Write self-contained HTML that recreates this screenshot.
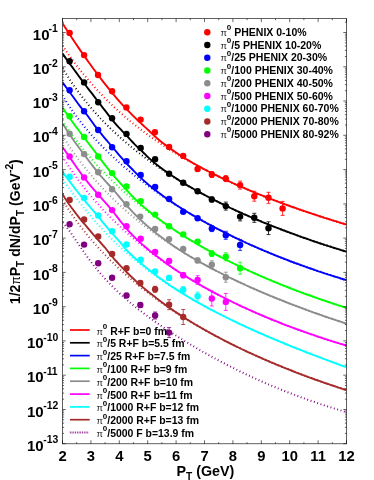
<!DOCTYPE html>
<html><head><meta charset="utf-8"><title>chart</title>
<style>html,body{margin:0;padding:0;background:#fff}body{width:374px;height:480px;overflow:hidden;font-family:"Liberation Sans",sans-serif}</style>
</head><body>
<svg width="374" height="480" viewBox="0 0 374 480" style="display:block">
<rect width="374" height="480" fill="#fff"/>
<defs><filter id="gs" x="0" y="0" width="100%" height="100%" filterUnits="userSpaceOnUse" color-interpolation-filters="sRGB"><feColorMatrix type="saturate" values="1"/></filter><clipPath id="cp"><rect x="62.5" y="18.6" width="284.0" height="425.2"/></clipPath></defs>
<g clip-path="url(#cp)" fill="none" stroke-linejoin="round">
<path d="M62.5,45.6 L64.5,48.6 L66.5,51.5 L68.5,54.4 L70.5,57.2 L72.5,59.9 L74.5,62.6 L76.5,65.3 L78.5,67.9 L80.5,70.5 L82.5,73.0 L84.5,75.4 L86.5,77.8 L88.5,80.2 L90.5,82.5 L92.5,84.8 L94.5,87.1 L96.5,89.3 L98.5,91.4 L100.5,93.5 L102.5,95.6 L104.5,97.7 L106.5,99.7 L108.5,101.7 L110.5,103.6 L112.5,105.5 L114.5,107.4 L116.5,109.3 L118.5,111.1 L120.5,112.9 L122.5,114.6 L124.5,116.4 L126.5,118.1 L128.5,119.8 L130.5,121.4 L132.5,123.1 L134.5,124.7 L136.5,126.2 L138.5,127.8 L140.5,129.3 L142.5,130.9 L144.5,132.4 L146.5,133.8 L148.5,135.3 L150.5,136.7 L152.5,138.1 L154.5,139.5 L156.5,140.9 L158.5,142.3 L160.5,143.6 L162.5,144.9 L164.5,146.2 L166.5,147.5 L168.5,148.8 L170.5,150.1 L172.5,151.3 L174.5,152.5 L176.5,153.8 L178.5,155.0 L180.5,156.2 L182.5,157.3 L184.5,158.5 L186.5,159.6 L188.5,160.8 L190.5,161.9 L192.5,163.0 L194.5,164.1 L196.5,165.2 L198.5,166.3 L200.5,167.3 L202.5,168.4 L204.5,169.4 L206.5,170.4 L208.5,171.5 L210.5,172.5 L212.5,173.5 L214.5,174.5 L216.5,175.4 L218.5,176.4 L220.5,177.4 L222.5,178.3 L224.5,179.3 L226.5,180.2 L228.5,181.1 L230.5,182.0 L232.5,183.0 L234.5,183.9 L236.5,184.8 L238.5,185.6 L240.5,186.5 L242.5,187.4 L244.5,188.2 L246.5,189.1 L248.5,189.9 L250.5,190.8 L252.5,191.6 L254.5,192.4 L256.5,193.3 L258.5,194.1 L260.5,194.9 L262.5,195.7 L264.5,196.5 L266.5,197.3 L268.5,198.0 L270.5,198.8 L272.5,199.6 L274.5,200.4 L276.5,201.1 L278.5,201.9 L280.5,202.6 L282.5,203.4 L284.5,204.1 L286.5,204.8 L288.5,205.5 L290.5,206.3 L292.5,207.0 L294.5,207.7 L296.5,208.4 L298.5,209.1 L300.5,209.8 L302.5,210.5 L304.5,211.2 L306.5,211.8 L308.5,212.5 L310.5,213.2 L312.5,213.9 L314.5,214.5 L316.5,215.2 L318.5,215.8 L320.5,216.5 L322.5,217.1 L324.5,217.8 L326.5,218.4 L328.5,219.0 L330.5,219.7 L332.5,220.3 L334.5,220.9 L336.5,221.5 L338.5,222.2 L340.5,222.8 L342.5,223.4 L344.5,224.0 L346.5,224.6" stroke="#ff0000" stroke-width="2" stroke-dasharray="0.9 2.6"/>
<path d="M62.5,67.8 L64.5,71.2 L66.5,74.4 L68.5,77.6 L70.5,80.7 L72.5,83.7 L74.5,86.6 L76.5,89.4 L78.5,92.1 L80.5,94.8 L82.5,97.4 L84.5,100.0 L86.5,102.4 L88.5,104.9 L90.5,107.2 L92.5,109.6 L94.5,111.8 L96.5,114.1 L98.5,116.2 L100.5,118.4 L102.5,120.5 L104.5,122.5 L106.5,124.5 L108.5,126.5 L110.5,128.5 L112.5,130.4 L114.5,132.3 L116.5,134.1 L118.5,135.9 L120.5,137.7 L122.5,139.5 L124.5,141.2 L126.5,142.9 L128.5,144.6 L130.5,146.3 L132.5,147.9 L134.5,149.5 L136.5,151.1 L138.5,152.7 L140.5,154.2 L142.5,155.7 L144.5,157.2 L146.5,158.7 L148.5,160.2 L150.5,161.6 L152.5,163.1 L154.5,164.5 L156.5,165.9 L158.5,167.2 L160.5,168.6 L162.5,169.9 L164.5,171.3 L166.5,172.6 L168.5,173.9 L170.5,175.1 L172.5,176.4 L174.5,177.7 L176.5,178.9 L178.5,180.1 L180.5,181.3 L182.5,182.5 L184.5,183.7 L186.5,184.9 L188.5,186.1 L190.5,187.2 L192.5,188.3 L194.5,189.5 L196.5,190.6 L198.5,191.7 L200.5,192.8 L202.5,193.9 L204.5,194.9 L206.5,196.0 L208.5,197.0 L210.5,198.1 L212.5,199.1 L214.5,200.1 L216.5,201.1 L218.5,202.1 L220.5,203.1 L222.5,204.1 L224.5,205.1 L226.5,206.1 L228.5,207.0 L230.5,208.0 L232.5,208.9 L234.5,209.8 L236.5,210.8 L238.5,211.7 L240.5,212.6 L242.5,213.5 L244.5,214.4 L246.5,215.2 L248.5,216.1 L250.5,217.0 L252.5,217.9 L254.5,218.7 L256.5,219.6 L258.5,220.4 L260.5,221.2 L262.5,222.1 L264.5,222.9 L266.5,223.7 L268.5,224.5 L270.5,225.3 L272.5,226.1 L274.5,226.9 L276.5,227.7 L278.5,228.4 L280.5,229.2 L282.5,230.0 L284.5,230.7 L286.5,231.5 L288.5,232.2 L290.5,233.0 L292.5,233.7 L294.5,234.4 L296.5,235.2 L298.5,235.9 L300.5,236.6 L302.5,237.3 L304.5,238.0 L306.5,238.7 L308.5,239.4 L310.5,240.1 L312.5,240.8 L314.5,241.5 L316.5,242.1 L318.5,242.8 L320.5,243.5 L322.5,244.1 L324.5,244.8 L326.5,245.4 L328.5,246.1 L330.5,246.7 L332.5,247.4 L334.5,248.0 L336.5,248.6 L338.5,249.2 L340.5,249.9 L342.5,250.5 L344.5,251.1 L346.5,251.7" stroke="#000000" stroke-width="2" stroke-dasharray="0.9 2.6"/>
<path d="M62.5,95.3 L64.5,98.7 L66.5,101.9 L68.5,105.0 L70.5,108.1 L72.5,111.0 L74.5,113.8 L76.5,116.5 L78.5,119.2 L80.5,121.8 L82.5,124.3 L84.5,126.8 L86.5,129.2 L88.5,131.5 L90.5,133.8 L92.5,136.1 L94.5,138.3 L96.5,140.5 L98.5,142.6 L100.5,144.7 L102.5,146.7 L104.5,148.7 L106.5,150.7 L108.5,152.6 L110.5,154.6 L112.5,156.4 L114.5,158.3 L116.5,160.1 L118.5,161.9 L120.5,163.7 L122.5,165.4 L124.5,167.2 L126.5,168.9 L128.5,170.5 L130.5,172.2 L132.5,173.8 L134.5,175.5 L136.5,177.0 L138.5,178.6 L140.5,180.2 L142.5,181.7 L144.5,183.2 L146.5,184.7 L148.5,186.2 L150.5,187.7 L152.5,189.1 L154.5,190.6 L156.5,192.0 L158.5,193.4 L160.5,194.8 L162.5,196.1 L164.5,197.5 L166.5,198.8 L168.5,200.2 L170.5,201.5 L172.5,202.8 L174.5,204.1 L176.5,205.3 L178.5,206.6 L180.5,207.8 L182.5,209.1 L184.5,210.3 L186.5,211.5 L188.5,212.7 L190.5,213.9 L192.5,215.1 L194.5,216.2 L196.5,217.4 L198.5,218.5 L200.5,219.6 L202.5,220.8 L204.5,221.9 L206.5,223.0 L208.5,224.1 L210.5,225.1 L212.5,226.2 L214.5,227.3 L216.5,228.3 L218.5,229.4 L220.5,230.4 L222.5,231.4 L224.5,232.4 L226.5,233.4 L228.5,234.4 L230.5,235.4 L232.5,236.4 L234.5,237.3 L236.5,238.3 L238.5,239.2 L240.5,240.2 L242.5,241.1 L244.5,242.0 L246.5,243.0 L248.5,243.9 L250.5,244.8 L252.5,245.7 L254.5,246.5 L256.5,247.4 L258.5,248.3 L260.5,249.2 L262.5,250.0 L264.5,250.9 L266.5,251.7 L268.5,252.5 L270.5,253.4 L272.5,254.2 L274.5,255.0 L276.5,255.8 L278.5,256.6 L280.5,257.4 L282.5,258.2 L284.5,259.0 L286.5,259.7 L288.5,260.5 L290.5,261.3 L292.5,262.0 L294.5,262.8 L296.5,263.5 L298.5,264.2 L300.5,265.0 L302.5,265.7 L304.5,266.4 L306.5,267.1 L308.5,267.8 L310.5,268.5 L312.5,269.2 L314.5,269.9 L316.5,270.6 L318.5,271.3 L320.5,271.9 L322.5,272.6 L324.5,273.3 L326.5,273.9 L328.5,274.6 L330.5,275.2 L332.5,275.8 L334.5,276.5 L336.5,277.1 L338.5,277.7 L340.5,278.4 L342.5,279.0 L344.5,279.6 L346.5,280.2" stroke="#0000ff" stroke-width="2" stroke-dasharray="0.9 2.6"/>
<path d="M62.5,120.6 L64.5,123.7 L66.5,126.7 L68.5,129.6 L70.5,132.5 L72.5,135.3 L74.5,138.0 L76.5,140.7 L78.5,143.3 L80.5,145.8 L82.5,148.4 L84.5,150.8 L86.5,153.2 L88.5,155.6 L90.5,157.9 L92.5,160.2 L94.5,162.5 L96.5,164.7 L98.5,166.9 L100.5,169.0 L102.5,171.1 L104.5,173.2 L106.5,175.2 L108.5,177.2 L110.5,179.2 L112.5,181.1 L114.5,183.0 L116.5,184.9 L118.5,186.8 L120.5,188.6 L122.5,190.4 L124.5,192.2 L126.5,194.0 L128.5,195.7 L130.5,197.4 L132.5,199.1 L134.5,200.8 L136.5,202.4 L138.5,204.0 L140.5,205.6 L142.5,207.2 L144.5,208.8 L146.5,210.3 L148.5,211.8 L150.5,213.3 L152.5,214.8 L154.5,216.3 L156.5,217.8 L158.5,219.2 L160.5,220.6 L162.5,222.0 L164.5,223.4 L166.5,224.8 L168.5,226.1 L170.5,227.5 L172.5,228.8 L174.5,230.1 L176.5,231.4 L178.5,232.7 L180.5,234.0 L182.5,235.2 L184.5,236.5 L186.5,237.7 L188.5,238.9 L190.5,240.2 L192.5,241.3 L194.5,242.5 L196.5,243.7 L198.5,244.9 L200.5,246.0 L202.5,247.1 L204.5,248.3 L206.5,249.4 L208.5,250.5 L210.5,251.6 L212.5,252.7 L214.5,253.8 L216.5,254.8 L218.5,255.9 L220.5,256.9 L222.5,258.0 L224.5,259.0 L226.5,260.0 L228.5,261.0 L230.5,262.0 L232.5,263.0 L234.5,264.0 L236.5,264.9 L238.5,265.9 L240.5,266.9 L242.5,267.8 L244.5,268.7 L246.5,269.7 L248.5,270.6 L250.5,271.5 L252.5,272.4 L254.5,273.3 L256.5,274.2 L258.5,275.1 L260.5,276.0 L262.5,276.8 L264.5,277.7 L266.5,278.6 L268.5,279.4 L270.5,280.2 L272.5,281.1 L274.5,281.9 L276.5,282.7 L278.5,283.5 L280.5,284.4 L282.5,285.2 L284.5,285.9 L286.5,286.7 L288.5,287.5 L290.5,288.3 L292.5,289.1 L294.5,289.8 L296.5,290.6 L298.5,291.3 L300.5,292.1 L302.5,292.8 L304.5,293.6 L306.5,294.3 L308.5,295.0 L310.5,295.7 L312.5,296.5 L314.5,297.2 L316.5,297.9 L318.5,298.6 L320.5,299.3 L322.5,300.0 L324.5,300.6 L326.5,301.3 L328.5,302.0 L330.5,302.7 L332.5,303.3 L334.5,304.0 L336.5,304.6 L338.5,305.3 L340.5,305.9 L342.5,306.6 L344.5,307.2 L346.5,307.8" stroke="#00ff00" stroke-width="2" stroke-dasharray="0.9 2.6"/>
<path d="M62.5,135.8 L64.5,139.0 L66.5,142.1 L68.5,145.1 L70.5,148.1 L72.5,151.0 L74.5,153.9 L76.5,156.6 L78.5,159.4 L80.5,162.0 L82.5,164.6 L84.5,167.2 L86.5,169.7 L88.5,172.1 L90.5,174.5 L92.5,176.9 L94.5,179.2 L96.5,181.5 L98.5,183.7 L100.5,185.9 L102.5,188.0 L104.5,190.2 L106.5,192.2 L108.5,194.3 L110.5,196.3 L112.5,198.2 L114.5,200.2 L116.5,202.1 L118.5,204.0 L120.5,205.8 L122.5,207.6 L124.5,209.4 L126.5,211.2 L128.5,212.9 L130.5,214.6 L132.5,216.3 L134.5,217.9 L136.5,219.6 L138.5,221.2 L140.5,222.8 L142.5,224.4 L144.5,225.9 L146.5,227.4 L148.5,228.9 L150.5,230.4 L152.5,231.9 L154.5,233.3 L156.5,234.8 L158.5,236.2 L160.5,237.6 L162.5,239.0 L164.5,240.3 L166.5,241.7 L168.5,243.0 L170.5,244.3 L172.5,245.6 L174.5,246.9 L176.5,248.2 L178.5,249.4 L180.5,250.7 L182.5,251.9 L184.5,253.1 L186.5,254.3 L188.5,255.5 L190.5,256.7 L192.5,257.8 L194.5,259.0 L196.5,260.1 L198.5,261.3 L200.5,262.4 L202.5,263.5 L204.5,264.6 L206.5,265.7 L208.5,266.8 L210.5,267.8 L212.5,268.9 L214.5,269.9 L216.5,271.0 L218.5,272.0 L220.5,273.0 L222.5,274.0 L224.5,275.0 L226.5,276.0 L228.5,277.0 L230.5,278.0 L232.5,278.9 L234.5,279.9 L236.5,280.8 L238.5,281.8 L240.5,282.7 L242.5,283.6 L244.5,284.5 L246.5,285.5 L248.5,286.4 L250.5,287.3 L252.5,288.2 L254.5,289.0 L256.5,289.9 L258.5,290.8 L260.5,291.6 L262.5,292.5 L264.5,293.3 L266.5,294.2 L268.5,295.0 L270.5,295.9 L272.5,296.7 L274.5,297.5 L276.5,298.3 L278.5,299.1 L280.5,299.9 L282.5,300.7 L284.5,301.5 L286.5,302.3 L288.5,303.1 L290.5,303.9 L292.5,304.6 L294.5,305.4 L296.5,306.1 L298.5,306.9 L300.5,307.7 L302.5,308.4 L304.5,309.1 L306.5,309.9 L308.5,310.6 L310.5,311.3 L312.5,312.1 L314.5,312.8 L316.5,313.5 L318.5,314.2 L320.5,314.9 L322.5,315.6 L324.5,316.3 L326.5,317.0 L328.5,317.7 L330.5,318.3 L332.5,319.0 L334.5,319.7 L336.5,320.4 L338.5,321.0 L340.5,321.7 L342.5,322.4 L344.5,323.0 L346.5,323.7" stroke="#8c8c8c" stroke-width="2" stroke-dasharray="0.9 2.6"/>
<path d="M62.5,156.6 L64.5,159.8 L66.5,163.0 L68.5,166.0 L70.5,169.0 L72.5,171.9 L74.5,174.8 L76.5,177.6 L78.5,180.3 L80.5,183.0 L82.5,185.6 L84.5,188.1 L86.5,190.6 L88.5,193.1 L90.5,195.5 L92.5,197.9 L94.5,200.2 L96.5,202.5 L98.5,204.7 L100.5,206.9 L102.5,209.1 L104.5,211.2 L106.5,213.3 L108.5,215.3 L110.5,217.4 L112.5,219.4 L114.5,221.3 L116.5,223.2 L118.5,225.2 L120.5,227.0 L122.5,228.9 L124.5,230.7 L126.5,232.5 L128.5,234.3 L130.5,236.0 L132.5,237.7 L134.5,239.4 L136.5,241.1 L138.5,242.7 L140.5,244.4 L142.5,246.0 L144.5,247.6 L146.5,249.1 L148.5,250.7 L150.5,252.2 L152.5,253.7 L154.5,255.2 L156.5,256.7 L158.5,258.1 L160.5,259.6 L162.5,261.0 L164.5,262.4 L166.5,263.8 L168.5,265.2 L170.5,266.5 L172.5,267.8 L174.5,269.2 L176.5,270.5 L178.5,271.8 L180.5,273.1 L182.5,274.3 L184.5,275.6 L186.5,276.8 L188.5,278.0 L190.5,279.2 L192.5,280.4 L194.5,281.6 L196.5,282.8 L198.5,284.0 L200.5,285.1 L202.5,286.3 L204.5,287.4 L206.5,288.5 L208.5,289.6 L210.5,290.7 L212.5,291.8 L214.5,292.8 L216.5,293.9 L218.5,294.9 L220.5,296.0 L222.5,297.0 L224.5,298.0 L226.5,299.0 L228.5,300.0 L230.5,301.0 L232.5,302.0 L234.5,303.0 L236.5,303.9 L238.5,304.9 L240.5,305.8 L242.5,306.8 L244.5,307.7 L246.5,308.6 L248.5,309.5 L250.5,310.4 L252.5,311.3 L254.5,312.2 L256.5,313.1 L258.5,313.9 L260.5,314.8 L262.5,315.7 L264.5,316.5 L266.5,317.3 L268.5,318.2 L270.5,319.0 L272.5,319.8 L274.5,320.6 L276.5,321.4 L278.5,322.2 L280.5,323.0 L282.5,323.8 L284.5,324.6 L286.5,325.3 L288.5,326.1 L290.5,326.9 L292.5,327.6 L294.5,328.3 L296.5,329.1 L298.5,329.8 L300.5,330.5 L302.5,331.2 L304.5,332.0 L306.5,332.7 L308.5,333.4 L310.5,334.1 L312.5,334.7 L314.5,335.4 L316.5,336.1 L318.5,336.8 L320.5,337.4 L322.5,338.1 L324.5,338.8 L326.5,339.4 L328.5,340.1 L330.5,340.7 L332.5,341.3 L334.5,342.0 L336.5,342.6 L338.5,343.2 L340.5,343.8 L342.5,344.4 L344.5,345.0 L346.5,345.6" stroke="#ff00ff" stroke-width="2" stroke-dasharray="0.9 2.6"/>
<path d="M62.5,179.2 L64.5,182.0 L66.5,184.7 L68.5,187.5 L70.5,190.3 L72.5,193.0 L74.5,195.7 L76.5,198.3 L78.5,201.0 L80.5,203.5 L82.5,206.1 L84.5,208.6 L86.5,211.1 L88.5,213.5 L90.5,215.9 L92.5,218.3 L94.5,220.6 L96.5,222.8 L98.5,225.1 L100.5,227.3 L102.5,229.4 L104.5,231.6 L106.5,233.6 L108.5,235.7 L110.5,237.7 L112.5,239.7 L114.5,241.7 L116.5,243.6 L118.5,245.5 L120.5,247.3 L122.5,249.2 L124.5,251.0 L126.5,252.7 L128.5,254.5 L130.5,256.2 L132.5,257.9 L134.5,259.6 L136.5,261.2 L138.5,262.8 L140.5,264.4 L142.5,266.0 L144.5,267.6 L146.5,269.1 L148.5,270.6 L150.5,272.1 L152.5,273.5 L154.5,275.0 L156.5,276.4 L158.5,277.8 L160.5,279.2 L162.5,280.6 L164.5,282.0 L166.5,283.3 L168.5,284.6 L170.5,285.9 L172.5,287.2 L174.5,288.5 L176.5,289.8 L178.5,291.0 L180.5,292.3 L182.5,293.5 L184.5,294.7 L186.5,295.9 L188.5,297.1 L190.5,298.2 L192.5,299.4 L194.5,300.6 L196.5,301.7 L198.5,302.8 L200.5,303.9 L202.5,305.0 L204.5,306.1 L206.5,307.2 L208.5,308.3 L210.5,309.3 L212.5,310.4 L214.5,311.4 L216.5,312.5 L218.5,313.5 L220.5,314.5 L222.5,315.5 L224.5,316.5 L226.5,317.5 L228.5,318.5 L230.5,319.5 L232.5,320.5 L234.5,321.4 L236.5,322.4 L238.5,323.3 L240.5,324.3 L242.5,325.2 L244.5,326.1 L246.5,327.1 L248.5,328.0 L250.5,328.9 L252.5,329.8 L254.5,330.7 L256.5,331.6 L258.5,332.5 L260.5,333.3 L262.5,334.2 L264.5,335.1 L266.5,336.0 L268.5,336.8 L270.5,337.7 L272.5,338.5 L274.5,339.4 L276.5,340.2 L278.5,341.0 L280.5,341.9 L282.5,342.7 L284.5,343.5 L286.5,344.3 L288.5,345.1 L290.5,346.0 L292.5,346.8 L294.5,347.6 L296.5,348.4 L298.5,349.2 L300.5,349.9 L302.5,350.7 L304.5,351.5 L306.5,352.3 L308.5,353.1 L310.5,353.8 L312.5,354.6 L314.5,355.4 L316.5,356.1 L318.5,356.9 L320.5,357.7 L322.5,358.4 L324.5,359.2 L326.5,359.9 L328.5,360.7 L330.5,361.4 L332.5,362.1 L334.5,362.9 L336.5,363.6 L338.5,364.3 L340.5,365.1 L342.5,365.8 L344.5,366.5 L346.5,367.2" stroke="#00ffff" stroke-width="2" stroke-dasharray="0.9 2.6"/>
<path d="M62.5,199.8 L64.5,203.1 L66.5,206.3 L68.5,209.4 L70.5,212.4 L72.5,215.4 L74.5,218.2 L76.5,221.0 L78.5,223.7 L80.5,226.4 L82.5,229.0 L84.5,231.5 L86.5,234.0 L88.5,236.4 L90.5,238.8 L92.5,241.2 L94.5,243.4 L96.5,245.7 L98.5,247.9 L100.5,250.1 L102.5,252.2 L104.5,254.3 L106.5,256.3 L108.5,258.4 L110.5,260.4 L112.5,262.3 L114.5,264.3 L116.5,266.2 L118.5,268.0 L120.5,269.9 L122.5,271.7 L124.5,273.5 L126.5,275.2 L128.5,277.0 L130.5,278.7 L132.5,280.4 L134.5,282.1 L136.5,283.7 L138.5,285.3 L140.5,287.0 L142.5,288.5 L144.5,290.1 L146.5,291.7 L148.5,293.2 L150.5,294.7 L152.5,296.2 L154.5,297.7 L156.5,299.1 L158.5,300.6 L160.5,302.0 L162.5,303.4 L164.5,304.8 L166.5,306.2 L168.5,307.5 L170.5,308.9 L172.5,310.2 L174.5,311.5 L176.5,312.8 L178.5,314.1 L180.5,315.4 L182.5,316.7 L184.5,317.9 L186.5,319.2 L188.5,320.4 L190.5,321.6 L192.5,322.8 L194.5,324.0 L196.5,325.2 L198.5,326.3 L200.5,327.5 L202.5,328.6 L204.5,329.8 L206.5,330.9 L208.5,332.0 L210.5,333.1 L212.5,334.2 L214.5,335.3 L216.5,336.4 L218.5,337.4 L220.5,338.5 L222.5,339.5 L224.5,340.6 L226.5,341.6 L228.5,342.6 L230.5,343.6 L232.5,344.6 L234.5,345.6 L236.5,346.6 L238.5,347.5 L240.5,348.5 L242.5,349.5 L244.5,350.4 L246.5,351.4 L248.5,352.3 L250.5,353.2 L252.5,354.1 L254.5,355.0 L256.5,355.9 L258.5,356.8 L260.5,357.7 L262.5,358.6 L264.5,359.5 L266.5,360.3 L268.5,361.2 L270.5,362.1 L272.5,362.9 L274.5,363.7 L276.5,364.6 L278.5,365.4 L280.5,366.2 L282.5,367.0 L284.5,367.9 L286.5,368.7 L288.5,369.4 L290.5,370.2 L292.5,371.0 L294.5,371.8 L296.5,372.6 L298.5,373.3 L300.5,374.1 L302.5,374.9 L304.5,375.6 L306.5,376.3 L308.5,377.1 L310.5,377.8 L312.5,378.5 L314.5,379.3 L316.5,380.0 L318.5,380.7 L320.5,381.4 L322.5,382.1 L324.5,382.8 L326.5,383.5 L328.5,384.2 L330.5,384.9 L332.5,385.5 L334.5,386.2 L336.5,386.9 L338.5,387.6 L340.5,388.2 L342.5,388.9 L344.5,389.5 L346.5,390.2" stroke="#a52a2a" stroke-width="2" stroke-dasharray="0.9 2.6"/>
<path d="M62.5,222.7 L64.5,224.7 L66.5,227.0 L68.5,229.6 L70.5,232.4 L72.5,235.3 L74.5,238.2 L76.5,241.2 L78.5,244.2 L80.5,247.1 L82.5,250.1 L84.5,252.9 L86.5,255.7 L88.5,258.5 L90.5,261.2 L92.5,263.8 L94.5,266.4 L96.5,268.8 L98.5,271.3 L100.5,273.6 L102.5,275.9 L104.5,278.2 L106.5,280.3 L108.5,282.5 L110.5,284.5 L112.5,286.5 L114.5,288.5 L116.5,290.5 L118.5,292.3 L120.5,294.2 L122.5,296.0 L124.5,297.8 L126.5,299.5 L128.5,301.2 L130.5,302.9 L132.5,304.6 L134.5,306.2 L136.5,307.8 L138.5,309.4 L140.5,310.9 L142.5,312.4 L144.5,314.0 L146.5,315.4 L148.5,316.9 L150.5,318.4 L152.5,319.8 L154.5,321.2 L156.5,322.6 L158.5,324.0 L160.5,325.4 L162.5,326.8 L164.5,328.1 L166.5,329.4 L168.5,330.8 L170.5,332.1 L172.5,333.4 L174.5,334.6 L176.5,335.9 L178.5,337.2 L180.5,338.4 L182.5,339.7 L184.5,340.9 L186.5,342.1 L188.5,343.3 L190.5,344.5 L192.5,345.7 L194.5,346.9 L196.5,348.1 L198.5,349.3 L200.5,350.4 L202.5,351.6 L204.5,352.7 L206.5,353.8 L208.5,354.9 L210.5,356.0 L212.5,357.1 L214.5,358.2 L216.5,359.3 L218.5,360.4 L220.5,361.4 L222.5,362.5 L224.5,363.5 L226.5,364.6 L228.5,365.6 L230.5,366.6 L232.5,367.6 L234.5,368.6 L236.5,369.6 L238.5,370.6 L240.5,371.6 L242.5,372.6 L244.5,373.5 L246.5,374.5 L248.5,375.4 L250.5,376.3 L252.5,377.3 L254.5,378.2 L256.5,379.1 L258.5,380.0 L260.5,380.9 L262.5,381.8 L264.5,382.7 L266.5,383.5 L268.5,384.4 L270.5,385.2 L272.5,386.1 L274.5,386.9 L276.5,387.7 L278.5,388.6 L280.5,389.4 L282.5,390.2 L284.5,391.0 L286.5,391.8 L288.5,392.6 L290.5,393.3 L292.5,394.1 L294.5,394.9 L296.5,395.6 L298.5,396.3 L300.5,397.1 L302.5,397.8 L304.5,398.5 L306.5,399.3 L308.5,400.0 L310.5,400.7 L312.5,401.4 L314.5,402.0 L316.5,402.7 L318.5,403.4 L320.5,404.1 L322.5,404.7 L324.5,405.4 L326.5,406.0 L328.5,406.7 L330.5,407.3 L332.5,407.9 L334.5,408.6 L336.5,409.2 L338.5,409.8 L340.5,410.4 L342.5,411.0 L344.5,411.6 L346.5,412.2" stroke="#800080" stroke-width="2" stroke-dasharray="0.9 2.6"/>
<path d="M62.5,23.3 L64.5,26.5 L66.5,29.6 L68.5,32.7 L70.5,35.7 L72.5,38.8 L74.5,41.8 L76.5,44.7 L78.5,47.6 L80.5,50.6 L82.5,53.4 L84.5,56.3 L86.5,59.1 L88.5,62.0 L90.5,64.7 L92.5,67.5 L94.5,70.2 L96.5,72.9 L98.5,75.5 L100.5,78.2 L102.5,80.8 L104.5,83.4 L106.5,85.9 L108.5,88.4 L110.5,90.9 L112.5,93.3 L114.5,95.7 L116.5,98.1 L118.5,100.4 L120.5,102.6 L122.5,104.8 L124.5,106.9 L126.5,109.0 L128.5,111.1 L130.5,113.2 L132.5,115.2 L134.5,117.1 L136.5,119.1 L138.5,121.0 L140.5,122.9 L142.5,124.7 L144.5,126.6 L146.5,128.4 L148.5,130.3 L150.5,132.2 L152.5,134.1 L154.5,136.0 L156.5,137.8 L158.5,139.5 L160.5,141.2 L162.5,142.8 L164.5,144.3 L166.5,145.8 L168.5,147.3 L170.5,148.7 L172.5,150.1 L174.5,151.5 L176.5,152.9 L178.5,154.2 L180.5,155.5 L182.5,156.8 L184.5,158.0 L186.5,159.2 L188.5,160.4 L190.5,161.6 L192.5,162.8 L194.5,163.9 L196.5,165.0 L198.5,166.1 L200.5,167.2 L202.5,168.3 L204.5,169.4 L206.5,170.4 L208.5,171.5 L210.5,172.5 L212.5,173.5 L214.5,174.5 L216.5,175.4 L218.5,176.4 L220.5,177.4 L222.5,178.3 L224.5,179.3 L226.5,180.2 L228.5,181.1 L230.5,182.0 L232.5,183.0 L234.5,183.9 L236.5,184.8 L238.5,185.6 L240.5,186.5 L242.5,187.4 L244.5,188.2 L246.5,189.1 L248.5,189.9 L250.5,190.8 L252.5,191.6 L254.5,192.4 L256.5,193.3 L258.5,194.1 L260.5,194.9 L262.5,195.7 L264.5,196.5 L266.5,197.3 L268.5,198.0 L270.5,198.8 L272.5,199.6 L274.5,200.4 L276.5,201.1 L278.5,201.9 L280.5,202.6 L282.5,203.4 L284.5,204.1 L286.5,204.8 L288.5,205.5 L290.5,206.3 L292.5,207.0 L294.5,207.7 L296.5,208.4 L298.5,209.1 L300.5,209.8 L302.5,210.5 L304.5,211.2 L306.5,211.8 L308.5,212.5 L310.5,213.2 L312.5,213.9 L314.5,214.5 L316.5,215.2 L318.5,215.8 L320.5,216.5 L322.5,217.1 L324.5,217.8 L326.5,218.4 L328.5,219.0 L330.5,219.7 L332.5,220.3 L334.5,220.9 L336.5,221.5 L338.5,222.2 L340.5,222.8 L342.5,223.4 L344.5,224.0 L346.5,224.6" stroke="#ff0000" stroke-width="1.9"/>
<path d="M62.5,53.5 L64.5,56.4 L66.5,59.2 L68.5,62.0 L70.5,64.7 L72.5,67.4 L74.5,70.2 L76.5,72.9 L78.5,75.7 L80.5,78.4 L82.5,81.1 L84.5,83.8 L86.5,86.5 L88.5,89.1 L90.5,91.7 L92.5,94.2 L94.5,96.8 L96.5,99.5 L98.5,102.1 L100.5,104.7 L102.5,107.3 L104.5,109.9 L106.5,112.4 L108.5,115.1 L110.5,117.7 L112.5,120.2 L114.5,122.6 L116.5,124.9 L118.5,127.1 L120.5,129.2 L122.5,131.3 L124.5,133.4 L126.5,135.5 L128.5,137.7 L130.5,139.9 L132.5,142.0 L134.5,144.1 L136.5,146.1 L138.5,148.0 L140.5,149.9 L142.5,151.8 L144.5,153.7 L146.5,155.7 L148.5,157.6 L150.5,159.4 L152.5,161.2 L154.5,162.9 L156.5,164.5 L158.5,166.1 L160.5,167.6 L162.5,169.0 L164.5,170.5 L166.5,171.9 L168.5,173.3 L170.5,174.7 L172.5,176.0 L174.5,177.3 L176.5,178.6 L178.5,179.9 L180.5,181.2 L182.5,182.4 L184.5,183.7 L186.5,184.9 L188.5,186.1 L190.5,187.2 L192.5,188.3 L194.5,189.5 L196.5,190.6 L198.5,191.7 L200.5,192.8 L202.5,193.9 L204.5,194.9 L206.5,196.0 L208.5,197.0 L210.5,198.1 L212.5,199.1 L214.5,200.1 L216.5,201.1 L218.5,202.1 L220.5,203.1 L222.5,204.1 L224.5,205.1 L226.5,206.1 L228.5,207.0 L230.5,208.0 L232.5,208.9 L234.5,209.8 L236.5,210.8 L238.5,211.7 L240.5,212.6 L242.5,213.5 L244.5,214.4 L246.5,215.2 L248.5,216.1 L250.5,217.0 L252.5,217.9 L254.5,218.7 L256.5,219.6 L258.5,220.4 L260.5,221.2 L262.5,222.1 L264.5,222.9 L266.5,223.7 L268.5,224.5 L270.5,225.3 L272.5,226.1 L274.5,226.9 L276.5,227.7 L278.5,228.4 L280.5,229.2 L282.5,230.0 L284.5,230.7 L286.5,231.5 L288.5,232.2 L290.5,233.0 L292.5,233.7 L294.5,234.4 L296.5,235.2 L298.5,235.9 L300.5,236.6 L302.5,237.3 L304.5,238.0 L306.5,238.7 L308.5,239.4 L310.5,240.1 L312.5,240.8 L314.5,241.5 L316.5,242.1 L318.5,242.8 L320.5,243.5 L322.5,244.1 L324.5,244.8 L326.5,245.4 L328.5,246.1 L330.5,246.7 L332.5,247.4 L334.5,248.0 L336.5,248.6 L338.5,249.2 L340.5,249.9 L342.5,250.5 L344.5,251.1 L346.5,251.7" stroke="#000000" stroke-width="1.9"/>
<path d="M62.5,82.3 L64.5,85.1 L66.5,87.8 L68.5,90.5 L70.5,93.2 L72.5,96.0 L74.5,98.8 L76.5,101.5 L78.5,104.2 L80.5,106.8 L82.5,109.3 L84.5,111.8 L86.5,114.3 L88.5,117.0 L90.5,119.8 L92.5,122.5 L94.5,125.3 L96.5,127.9 L98.5,130.5 L100.5,132.9 L102.5,135.4 L104.5,137.8 L106.5,140.1 L108.5,142.5 L110.5,144.8 L112.5,147.2 L114.5,149.5 L116.5,151.9 L118.5,154.3 L120.5,156.6 L122.5,158.9 L124.5,161.2 L126.5,163.4 L128.5,165.5 L130.5,167.5 L132.5,169.5 L134.5,171.6 L136.5,173.6 L138.5,175.6 L140.5,177.6 L142.5,179.4 L144.5,181.2 L146.5,182.9 L148.5,184.7 L150.5,186.3 L152.5,187.9 L154.5,189.5 L156.5,191.1 L158.5,192.6 L160.5,194.1 L162.5,195.6 L164.5,197.0 L166.5,198.4 L168.5,199.8 L170.5,201.2 L172.5,202.5 L174.5,203.9 L176.5,205.2 L178.5,206.5 L180.5,207.7 L182.5,209.0 L184.5,210.3 L186.5,211.5 L188.5,212.7 L190.5,213.9 L192.5,215.1 L194.5,216.2 L196.5,217.4 L198.5,218.5 L200.5,219.6 L202.5,220.8 L204.5,221.9 L206.5,223.0 L208.5,224.1 L210.5,225.1 L212.5,226.2 L214.5,227.3 L216.5,228.3 L218.5,229.4 L220.5,230.4 L222.5,231.4 L224.5,232.4 L226.5,233.4 L228.5,234.4 L230.5,235.4 L232.5,236.4 L234.5,237.3 L236.5,238.3 L238.5,239.2 L240.5,240.2 L242.5,241.1 L244.5,242.0 L246.5,243.0 L248.5,243.9 L250.5,244.8 L252.5,245.7 L254.5,246.5 L256.5,247.4 L258.5,248.3 L260.5,249.2 L262.5,250.0 L264.5,250.9 L266.5,251.7 L268.5,252.5 L270.5,253.4 L272.5,254.2 L274.5,255.0 L276.5,255.8 L278.5,256.6 L280.5,257.4 L282.5,258.2 L284.5,259.0 L286.5,259.7 L288.5,260.5 L290.5,261.3 L292.5,262.0 L294.5,262.8 L296.5,263.5 L298.5,264.2 L300.5,265.0 L302.5,265.7 L304.5,266.4 L306.5,267.1 L308.5,267.8 L310.5,268.5 L312.5,269.2 L314.5,269.9 L316.5,270.6 L318.5,271.3 L320.5,271.9 L322.5,272.6 L324.5,273.3 L326.5,273.9 L328.5,274.6 L330.5,275.2 L332.5,275.8 L334.5,276.5 L336.5,277.1 L338.5,277.7 L340.5,278.4 L342.5,279.0 L344.5,279.6 L346.5,280.2" stroke="#0000ff" stroke-width="1.9"/>
<path d="M62.5,107.6 L64.5,110.6 L66.5,113.5 L68.5,116.4 L70.5,119.2 L72.5,122.0 L74.5,124.7 L76.5,127.4 L78.5,130.0 L80.5,132.7 L82.5,135.3 L84.5,138.0 L86.5,140.6 L88.5,143.3 L90.5,145.9 L92.5,148.5 L94.5,151.1 L96.5,153.8 L98.5,156.5 L100.5,159.1 L102.5,161.7 L104.5,164.3 L106.5,166.9 L108.5,169.4 L110.5,171.9 L112.5,174.3 L114.5,176.7 L116.5,179.0 L118.5,181.2 L120.5,183.4 L122.5,185.6 L124.5,187.8 L126.5,190.0 L128.5,192.1 L130.5,194.3 L132.5,196.4 L134.5,198.5 L136.5,200.4 L138.5,202.3 L140.5,204.1 L142.5,205.9 L144.5,207.6 L146.5,209.3 L148.5,211.0 L150.5,212.6 L152.5,214.1 L154.5,215.7 L156.5,217.2 L158.5,218.7 L160.5,220.2 L162.5,221.7 L164.5,223.1 L166.5,224.5 L168.5,225.9 L170.5,227.3 L172.5,228.7 L174.5,230.0 L176.5,231.4 L178.5,232.7 L180.5,234.0 L182.5,235.2 L184.5,236.5 L186.5,237.7 L188.5,238.9 L190.5,240.2 L192.5,241.3 L194.5,242.5 L196.5,243.7 L198.5,244.9 L200.5,246.0 L202.5,247.1 L204.5,248.3 L206.5,249.4 L208.5,250.5 L210.5,251.6 L212.5,252.7 L214.5,253.8 L216.5,254.8 L218.5,255.9 L220.5,256.9 L222.5,258.0 L224.5,259.0 L226.5,260.0 L228.5,261.0 L230.5,262.0 L232.5,263.0 L234.5,264.0 L236.5,264.9 L238.5,265.9 L240.5,266.9 L242.5,267.8 L244.5,268.7 L246.5,269.7 L248.5,270.6 L250.5,271.5 L252.5,272.4 L254.5,273.3 L256.5,274.2 L258.5,275.1 L260.5,276.0 L262.5,276.8 L264.5,277.7 L266.5,278.6 L268.5,279.4 L270.5,280.2 L272.5,281.1 L274.5,281.9 L276.5,282.7 L278.5,283.5 L280.5,284.4 L282.5,285.2 L284.5,285.9 L286.5,286.7 L288.5,287.5 L290.5,288.3 L292.5,289.1 L294.5,289.8 L296.5,290.6 L298.5,291.3 L300.5,292.1 L302.5,292.8 L304.5,293.6 L306.5,294.3 L308.5,295.0 L310.5,295.7 L312.5,296.5 L314.5,297.2 L316.5,297.9 L318.5,298.6 L320.5,299.3 L322.5,300.0 L324.5,300.6 L326.5,301.3 L328.5,302.0 L330.5,302.7 L332.5,303.3 L334.5,304.0 L336.5,304.6 L338.5,305.3 L340.5,305.9 L342.5,306.6 L344.5,307.2 L346.5,307.8" stroke="#00ff00" stroke-width="1.9"/>
<path d="M62.5,123.4 L64.5,126.6 L66.5,129.7 L68.5,132.7 L70.5,135.7 L72.5,138.6 L74.5,141.5 L76.5,144.2 L78.5,147.0 L80.5,149.7 L82.5,152.4 L84.5,155.1 L86.5,157.8 L88.5,160.4 L90.5,163.0 L92.5,165.6 L94.5,168.2 L96.5,170.8 L98.5,173.3 L100.5,175.6 L102.5,177.9 L104.5,180.1 L106.5,182.3 L108.5,184.5 L110.5,186.7 L112.5,188.9 L114.5,191.2 L116.5,193.5 L118.5,195.9 L120.5,198.3 L122.5,200.7 L124.5,203.0 L126.5,205.3 L128.5,207.5 L130.5,209.6 L132.5,211.8 L134.5,213.8 L136.5,215.9 L138.5,217.9 L140.5,219.8 L142.5,221.6 L144.5,223.4 L146.5,225.2 L148.5,226.9 L150.5,228.5 L152.5,230.2 L154.5,231.8 L156.5,233.4 L158.5,235.0 L160.5,236.5 L162.5,238.0 L164.5,239.5 L166.5,241.0 L168.5,242.4 L170.5,243.8 L172.5,245.2 L174.5,246.6 L176.5,247.9 L178.5,249.2 L180.5,250.5 L182.5,251.8 L184.5,253.1 L186.5,254.3 L188.5,255.5 L190.5,256.7 L192.5,257.8 L194.5,259.0 L196.5,260.1 L198.5,261.3 L200.5,262.4 L202.5,263.5 L204.5,264.6 L206.5,265.7 L208.5,266.8 L210.5,267.8 L212.5,268.9 L214.5,269.9 L216.5,271.0 L218.5,272.0 L220.5,273.0 L222.5,274.0 L224.5,275.0 L226.5,276.0 L228.5,277.0 L230.5,278.0 L232.5,278.9 L234.5,279.9 L236.5,280.8 L238.5,281.8 L240.5,282.7 L242.5,283.6 L244.5,284.5 L246.5,285.5 L248.5,286.4 L250.5,287.3 L252.5,288.2 L254.5,289.0 L256.5,289.9 L258.5,290.8 L260.5,291.6 L262.5,292.5 L264.5,293.3 L266.5,294.2 L268.5,295.0 L270.5,295.9 L272.5,296.7 L274.5,297.5 L276.5,298.3 L278.5,299.1 L280.5,299.9 L282.5,300.7 L284.5,301.5 L286.5,302.3 L288.5,303.1 L290.5,303.9 L292.5,304.6 L294.5,305.4 L296.5,306.1 L298.5,306.9 L300.5,307.7 L302.5,308.4 L304.5,309.1 L306.5,309.9 L308.5,310.6 L310.5,311.3 L312.5,312.1 L314.5,312.8 L316.5,313.5 L318.5,314.2 L320.5,314.9 L322.5,315.6 L324.5,316.3 L326.5,317.0 L328.5,317.7 L330.5,318.3 L332.5,319.0 L334.5,319.7 L336.5,320.4 L338.5,321.0 L340.5,321.7 L342.5,322.4 L344.5,323.0 L346.5,323.7" stroke="#8c8c8c" stroke-width="1.9"/>
<path d="M62.5,147.1 L64.5,150.0 L66.5,152.8 L68.5,155.7 L70.5,158.5 L72.5,161.4 L74.5,164.3 L76.5,167.2 L78.5,170.0 L80.5,172.8 L82.5,175.5 L84.5,178.1 L86.5,180.7 L88.5,183.2 L90.5,185.6 L92.5,188.0 L94.5,190.3 L96.5,192.6 L98.5,194.9 L100.5,197.2 L102.5,199.4 L104.5,201.6 L106.5,203.8 L108.5,206.2 L110.5,208.6 L112.5,211.0 L114.5,213.5 L116.5,216.1 L118.5,218.7 L120.5,221.3 L122.5,223.7 L124.5,226.1 L126.5,228.5 L128.5,230.8 L130.5,233.0 L132.5,235.1 L134.5,237.1 L136.5,239.1 L138.5,240.9 L140.5,242.8 L142.5,244.6 L144.5,246.3 L146.5,248.0 L148.5,249.7 L150.5,251.4 L152.5,253.0 L154.5,254.5 L156.5,256.1 L158.5,257.6 L160.5,259.1 L162.5,260.6 L164.5,262.1 L166.5,263.5 L168.5,264.9 L170.5,266.3 L172.5,267.7 L174.5,269.1 L176.5,270.4 L178.5,271.7 L180.5,273.0 L182.5,274.3 L184.5,275.6 L186.5,276.8 L188.5,278.0 L190.5,279.2 L192.5,280.4 L194.5,281.6 L196.5,282.8 L198.5,284.0 L200.5,285.1 L202.5,286.3 L204.5,287.4 L206.5,288.5 L208.5,289.6 L210.5,290.7 L212.5,291.8 L214.5,292.8 L216.5,293.9 L218.5,294.9 L220.5,296.0 L222.5,297.0 L224.5,298.0 L226.5,299.0 L228.5,300.0 L230.5,301.0 L232.5,302.0 L234.5,303.0 L236.5,303.9 L238.5,304.9 L240.5,305.8 L242.5,306.8 L244.5,307.7 L246.5,308.6 L248.5,309.5 L250.5,310.4 L252.5,311.3 L254.5,312.2 L256.5,313.1 L258.5,313.9 L260.5,314.8 L262.5,315.7 L264.5,316.5 L266.5,317.3 L268.5,318.2 L270.5,319.0 L272.5,319.8 L274.5,320.6 L276.5,321.4 L278.5,322.2 L280.5,323.0 L282.5,323.8 L284.5,324.6 L286.5,325.3 L288.5,326.1 L290.5,326.9 L292.5,327.6 L294.5,328.3 L296.5,329.1 L298.5,329.8 L300.5,330.5 L302.5,331.2 L304.5,332.0 L306.5,332.7 L308.5,333.4 L310.5,334.1 L312.5,334.7 L314.5,335.4 L316.5,336.1 L318.5,336.8 L320.5,337.4 L322.5,338.1 L324.5,338.8 L326.5,339.4 L328.5,340.1 L330.5,340.7 L332.5,341.3 L334.5,342.0 L336.5,342.6 L338.5,343.2 L340.5,343.8 L342.5,344.4 L344.5,345.0 L346.5,345.6" stroke="#ff00ff" stroke-width="1.9"/>
<path d="M62.5,171.9 L64.5,174.6 L66.5,177.3 L68.5,180.0 L70.5,182.6 L72.5,185.3 L74.5,187.9 L76.5,190.5 L78.5,193.0 L80.5,195.5 L82.5,198.0 L84.5,200.4 L86.5,202.8 L88.5,205.2 L90.5,207.5 L92.5,209.9 L94.5,212.2 L96.5,214.6 L98.5,216.9 L100.5,219.3 L102.5,221.8 L104.5,224.3 L106.5,226.7 L108.5,229.1 L110.5,231.4 L112.5,233.7 L114.5,235.9 L116.5,238.1 L118.5,240.3 L120.5,242.7 L122.5,245.1 L124.5,247.7 L126.5,250.0 L128.5,252.1 L130.5,254.0 L132.5,255.9 L134.5,257.7 L136.5,259.5 L138.5,261.2 L140.5,263.0 L142.5,264.6 L144.5,266.3 L146.5,267.9 L148.5,269.5 L150.5,271.1 L152.5,272.7 L154.5,274.2 L156.5,275.7 L158.5,277.2 L160.5,278.6 L162.5,280.1 L164.5,281.5 L166.5,282.9 L168.5,284.3 L170.5,285.7 L172.5,287.0 L174.5,288.3 L176.5,289.6 L178.5,290.9 L180.5,292.1 L182.5,293.4 L184.5,294.6 L186.5,295.8 L188.5,297.0 L190.5,298.2 L192.5,299.4 L194.5,300.6 L196.5,301.7 L198.5,302.8 L200.5,303.9 L202.5,305.0 L204.5,306.1 L206.5,307.2 L208.5,308.3 L210.5,309.3 L212.5,310.4 L214.5,311.4 L216.5,312.5 L218.5,313.5 L220.5,314.5 L222.5,315.5 L224.5,316.5 L226.5,317.5 L228.5,318.5 L230.5,319.5 L232.5,320.5 L234.5,321.4 L236.5,322.4 L238.5,323.3 L240.5,324.3 L242.5,325.2 L244.5,326.1 L246.5,327.1 L248.5,328.0 L250.5,328.9 L252.5,329.8 L254.5,330.7 L256.5,331.6 L258.5,332.5 L260.5,333.3 L262.5,334.2 L264.5,335.1 L266.5,336.0 L268.5,336.8 L270.5,337.7 L272.5,338.5 L274.5,339.4 L276.5,340.2 L278.5,341.0 L280.5,341.9 L282.5,342.7 L284.5,343.5 L286.5,344.3 L288.5,345.1 L290.5,346.0 L292.5,346.8 L294.5,347.6 L296.5,348.4 L298.5,349.2 L300.5,349.9 L302.5,350.7 L304.5,351.5 L306.5,352.3 L308.5,353.1 L310.5,353.8 L312.5,354.6 L314.5,355.4 L316.5,356.1 L318.5,356.9 L320.5,357.7 L322.5,358.4 L324.5,359.2 L326.5,359.9 L328.5,360.7 L330.5,361.4 L332.5,362.1 L334.5,362.9 L336.5,363.6 L338.5,364.3 L340.5,365.1 L342.5,365.8 L344.5,366.5 L346.5,367.2" stroke="#00ffff" stroke-width="1.9"/>
<path d="M62.5,194.1 L64.5,197.4 L66.5,200.5 L68.5,203.5 L70.5,206.3 L72.5,209.0 L74.5,211.6 L76.5,214.3 L78.5,216.9 L80.5,219.5 L82.5,221.8 L84.5,224.0 L86.5,226.4 L88.5,228.8 L90.5,231.2 L92.5,233.6 L94.5,235.8 L96.5,238.1 L98.5,240.3 L100.5,242.5 L102.5,244.8 L104.5,247.0 L106.5,249.5 L108.5,252.1 L110.5,254.6 L112.5,257.0 L114.5,259.3 L116.5,261.5 L118.5,263.7 L120.5,265.8 L122.5,267.8 L124.5,269.9 L126.5,272.0 L128.5,274.0 L130.5,276.0 L132.5,277.8 L134.5,279.7 L136.5,281.6 L138.5,283.4 L140.5,285.2 L142.5,286.9 L144.5,288.6 L146.5,290.3 L148.5,291.9 L150.5,293.5 L152.5,295.1 L154.5,296.6 L156.5,298.2 L158.5,299.7 L160.5,301.2 L162.5,302.7 L164.5,304.2 L166.5,305.6 L168.5,307.1 L170.5,308.5 L172.5,309.9 L174.5,311.2 L176.5,312.6 L178.5,313.9 L180.5,315.2 L182.5,316.5 L184.5,317.8 L186.5,319.1 L188.5,320.3 L190.5,321.6 L192.5,322.8 L194.5,324.0 L196.5,325.2 L198.5,326.3 L200.5,327.5 L202.5,328.6 L204.5,329.8 L206.5,330.9 L208.5,332.0 L210.5,333.1 L212.5,334.2 L214.5,335.3 L216.5,336.4 L218.5,337.4 L220.5,338.5 L222.5,339.5 L224.5,340.6 L226.5,341.6 L228.5,342.6 L230.5,343.6 L232.5,344.6 L234.5,345.6 L236.5,346.6 L238.5,347.5 L240.5,348.5 L242.5,349.5 L244.5,350.4 L246.5,351.4 L248.5,352.3 L250.5,353.2 L252.5,354.1 L254.5,355.0 L256.5,355.9 L258.5,356.8 L260.5,357.7 L262.5,358.6 L264.5,359.5 L266.5,360.3 L268.5,361.2 L270.5,362.1 L272.5,362.9 L274.5,363.7 L276.5,364.6 L278.5,365.4 L280.5,366.2 L282.5,367.0 L284.5,367.9 L286.5,368.7 L288.5,369.4 L290.5,370.2 L292.5,371.0 L294.5,371.8 L296.5,372.6 L298.5,373.3 L300.5,374.1 L302.5,374.9 L304.5,375.6 L306.5,376.3 L308.5,377.1 L310.5,377.8 L312.5,378.5 L314.5,379.3 L316.5,380.0 L318.5,380.7 L320.5,381.4 L322.5,382.1 L324.5,382.8 L326.5,383.5 L328.5,384.2 L330.5,384.9 L332.5,385.5 L334.5,386.2 L336.5,386.9 L338.5,387.6 L340.5,388.2 L342.5,388.9 L344.5,389.5 L346.5,390.2" stroke="#a52a2a" stroke-width="1.9"/>
</g>
<circle cx="69.6" cy="32.9" r="3.2" fill="#ff0000"/><circle cx="84.1" cy="55.1" r="3.2" fill="#ff0000"/><circle cx="98.0" cy="75.0" r="3.2" fill="#ff0000"/><circle cx="112.1" cy="91.2" r="3.2" fill="#ff0000"/><circle cx="126.4" cy="107.4" r="3.2" fill="#ff0000"/><circle cx="140.6" cy="119.6" r="3.2" fill="#ff0000"/><circle cx="154.9" cy="132.2" r="3.2" fill="#ff0000"/><circle cx="169.1" cy="146.9" r="3.2" fill="#ff0000"/><circle cx="183.2" cy="155.9" r="3.2" fill="#ff0000"/><circle cx="197.6" cy="169.0" r="3.2" fill="#ff0000"/><path d="M211.8,171.5V177.5M209.8,171.5h4M209.8,177.5h4" stroke="#ff0000" stroke-width="0.8" fill="none"/><circle cx="211.8" cy="174.5" r="3.2" fill="#ff0000"/><path d="M225.8,175.6V181.6M223.8,175.6h4M223.8,181.6h4" stroke="#ff0000" stroke-width="0.8" fill="none"/><circle cx="225.8" cy="178.6" r="3.2" fill="#ff0000"/><path d="M240.1,181.1V189.1M238.1,181.1h4M238.1,189.1h4" stroke="#ff0000" stroke-width="0.8" fill="none"/><circle cx="240.1" cy="185.1" r="3.2" fill="#ff0000"/><path d="M254.3,191.2V201.2M252.3,191.2h4M252.3,201.2h4" stroke="#ff0000" stroke-width="0.8" fill="none"/><circle cx="254.3" cy="196.2" r="3.2" fill="#ff0000"/><path d="M268.5,192.3V203.3M266.5,192.3h4M266.5,203.3h4" stroke="#ff0000" stroke-width="0.8" fill="none"/><circle cx="268.5" cy="197.8" r="3.2" fill="#ff0000"/><path d="M282.6,201.4V215.4M280.6,201.4h4M280.6,215.4h4" stroke="#ff0000" stroke-width="0.8" fill="none"/><circle cx="282.6" cy="208.4" r="3.2" fill="#ff0000"/>
<circle cx="69.6" cy="61.2" r="3.2" fill="#000000"/><circle cx="84.1" cy="82.4" r="3.2" fill="#000000"/><circle cx="98.2" cy="102.3" r="3.2" fill="#000000"/><circle cx="112.1" cy="118.3" r="3.2" fill="#000000"/><circle cx="126.5" cy="133.9" r="3.2" fill="#000000"/><circle cx="140.7" cy="147.9" r="3.2" fill="#000000"/><circle cx="155.1" cy="159.3" r="3.2" fill="#000000"/><circle cx="169.1" cy="173.8" r="3.2" fill="#000000"/><circle cx="183.2" cy="182.8" r="3.2" fill="#000000"/><circle cx="197.6" cy="191.2" r="3.2" fill="#000000"/><path d="M211.8,197.0V202.0M209.8,197.0h4M209.8,202.0h4" stroke="#000000" stroke-width="0.8" fill="none"/><circle cx="211.8" cy="199.5" r="3.2" fill="#000000"/><path d="M225.8,202.1V210.1M223.8,202.1h4M223.8,210.1h4" stroke="#000000" stroke-width="0.8" fill="none"/><circle cx="225.8" cy="206.1" r="3.2" fill="#000000"/><path d="M240.1,212.3V220.9M238.1,212.3h4M238.1,220.9h4" stroke="#000000" stroke-width="0.8" fill="none"/><circle cx="240.1" cy="216.6" r="3.2" fill="#000000"/><path d="M254.3,213.3V222.3M252.3,213.3h4M252.3,222.3h4" stroke="#000000" stroke-width="0.8" fill="none"/><circle cx="254.3" cy="217.8" r="3.2" fill="#000000"/><path d="M268.5,221.8V234.6M266.5,221.8h4M266.5,234.6h4" stroke="#000000" stroke-width="0.8" fill="none"/><circle cx="268.5" cy="228.2" r="3.2" fill="#000000"/>
<circle cx="69.6" cy="90.2" r="3.2" fill="#0000ff"/><circle cx="84.1" cy="111.3" r="3.2" fill="#0000ff"/><circle cx="98.2" cy="130.0" r="3.2" fill="#0000ff"/><circle cx="112.1" cy="147.2" r="3.2" fill="#0000ff"/><circle cx="126.5" cy="161.2" r="3.2" fill="#0000ff"/><circle cx="140.7" cy="175.0" r="3.2" fill="#0000ff"/><circle cx="155.1" cy="187.0" r="3.2" fill="#0000ff"/><circle cx="169.1" cy="199.0" r="3.2" fill="#0000ff"/><circle cx="183.2" cy="211.8" r="3.2" fill="#0000ff"/><circle cx="197.6" cy="218.3" r="3.2" fill="#0000ff"/><path d="M211.8,225.6V231.6M209.8,225.6h4M209.8,231.6h4" stroke="#0000ff" stroke-width="0.8" fill="none"/><circle cx="211.8" cy="228.6" r="3.2" fill="#0000ff"/><path d="M225.8,231.3V239.3M223.8,231.3h4M223.8,239.3h4" stroke="#0000ff" stroke-width="0.8" fill="none"/><circle cx="225.8" cy="235.3" r="3.2" fill="#0000ff"/><path d="M240.1,239.6V250.4M238.1,239.6h4M238.1,250.4h4" stroke="#0000ff" stroke-width="0.8" fill="none"/><circle cx="240.1" cy="245.0" r="3.2" fill="#0000ff"/>
<circle cx="69.6" cy="116.3" r="3.2" fill="#00ff00"/><circle cx="84.1" cy="137.0" r="3.2" fill="#00ff00"/><circle cx="98.2" cy="156.5" r="3.2" fill="#00ff00"/><circle cx="112.1" cy="173.1" r="3.2" fill="#00ff00"/><circle cx="126.5" cy="186.5" r="3.2" fill="#00ff00"/><circle cx="140.7" cy="201.1" r="3.2" fill="#00ff00"/><circle cx="155.1" cy="214.6" r="3.2" fill="#00ff00"/><circle cx="169.1" cy="226.2" r="3.2" fill="#00ff00"/><circle cx="183.2" cy="234.4" r="3.2" fill="#00ff00"/><path d="M197.6,239.6V243.6M195.6,239.6h4M195.6,243.6h4" stroke="#00ff00" stroke-width="0.8" fill="none"/><circle cx="197.6" cy="241.6" r="3.2" fill="#00ff00"/><path d="M211.8,250.6V256.6M209.8,250.6h4M209.8,256.6h4" stroke="#00ff00" stroke-width="0.8" fill="none"/><circle cx="211.8" cy="253.6" r="3.2" fill="#00ff00"/><path d="M225.8,252.8V260.8M223.8,252.8h4M223.8,260.8h4" stroke="#00ff00" stroke-width="0.8" fill="none"/><circle cx="225.8" cy="256.8" r="3.2" fill="#00ff00"/><path d="M240.1,262.2V274.2M238.1,262.2h4M238.1,274.2h4" stroke="#00ff00" stroke-width="0.8" fill="none"/><circle cx="240.1" cy="268.2" r="3.2" fill="#00ff00"/>
<circle cx="69.6" cy="133.7" r="3.2" fill="#8c8c8c"/><circle cx="84.1" cy="154.1" r="3.2" fill="#8c8c8c"/><circle cx="98.2" cy="172.2" r="3.2" fill="#8c8c8c"/><circle cx="112.1" cy="189.3" r="3.2" fill="#8c8c8c"/><circle cx="126.5" cy="204.3" r="3.2" fill="#8c8c8c"/><circle cx="140.2" cy="216.6" r="3.2" fill="#8c8c8c"/><circle cx="155.1" cy="229.0" r="3.2" fill="#8c8c8c"/><circle cx="169.1" cy="239.1" r="3.2" fill="#8c8c8c"/><circle cx="183.2" cy="249.0" r="3.2" fill="#8c8c8c"/><path d="M197.6,257.9V262.9M195.6,257.9h4M195.6,262.9h4" stroke="#8c8c8c" stroke-width="0.8" fill="none"/><circle cx="197.6" cy="260.4" r="3.2" fill="#8c8c8c"/><path d="M211.8,260.8V268.8M209.8,260.8h4M209.8,268.8h4" stroke="#8c8c8c" stroke-width="0.8" fill="none"/><circle cx="211.8" cy="264.8" r="3.2" fill="#8c8c8c"/><path d="M225.8,272.2V282.2M223.8,272.2h4M223.8,282.2h4" stroke="#8c8c8c" stroke-width="0.8" fill="none"/><circle cx="225.8" cy="277.2" r="3.2" fill="#8c8c8c"/>
<circle cx="69.6" cy="156.5" r="3.2" fill="#ff00ff"/><circle cx="84.1" cy="177.4" r="3.2" fill="#ff00ff"/><circle cx="98.2" cy="194.7" r="3.2" fill="#ff00ff"/><circle cx="112.1" cy="210.1" r="3.2" fill="#ff00ff"/><circle cx="126.5" cy="226.2" r="3.2" fill="#ff00ff"/><circle cx="140.7" cy="238.7" r="3.2" fill="#ff00ff"/><circle cx="155.1" cy="252.0" r="3.2" fill="#ff00ff"/><circle cx="169.1" cy="261.0" r="3.2" fill="#ff00ff"/><path d="M183.2,272.8V277.8M181.2,272.8h4M181.2,277.8h4" stroke="#ff00ff" stroke-width="0.8" fill="none"/><circle cx="183.2" cy="275.3" r="3.2" fill="#ff00ff"/><path d="M197.6,275.7V284.3M195.6,275.7h4M195.6,284.3h4" stroke="#ff00ff" stroke-width="0.8" fill="none"/><circle cx="197.6" cy="280.0" r="3.2" fill="#ff00ff"/><path d="M211.8,291.0V306.0M209.8,291.0h4M209.8,306.0h4" stroke="#ff00ff" stroke-width="0.8" fill="none"/><circle cx="211.8" cy="298.5" r="3.2" fill="#ff00ff"/><path d="M225.8,293.4V310.4M223.8,293.4h4M223.8,310.4h4" stroke="#ff00ff" stroke-width="0.8" fill="none"/><circle cx="225.8" cy="301.9" r="3.2" fill="#ff00ff"/>
<circle cx="69.6" cy="176.8" r="3.2" fill="#00ffff"/><circle cx="84.1" cy="197.9" r="3.2" fill="#00ffff"/><circle cx="98.2" cy="215.5" r="3.2" fill="#00ffff"/><circle cx="112.1" cy="231.2" r="3.2" fill="#00ffff"/><circle cx="126.5" cy="244.5" r="3.2" fill="#00ffff"/><circle cx="140.7" cy="259.7" r="3.2" fill="#00ffff"/><circle cx="155.1" cy="271.5" r="3.2" fill="#00ffff"/><path d="M169.1,275.4V280.4M167.1,275.4h4M167.1,280.4h4" stroke="#00ffff" stroke-width="0.8" fill="none"/><circle cx="169.1" cy="277.9" r="3.2" fill="#00ffff"/><path d="M183.2,286.7V292.7M181.2,286.7h4M181.2,292.7h4" stroke="#00ffff" stroke-width="0.8" fill="none"/><circle cx="183.2" cy="289.7" r="3.2" fill="#00ffff"/><path d="M197.6,292.1V300.1M195.6,292.1h4M195.6,300.1h4" stroke="#00ffff" stroke-width="0.8" fill="none"/><circle cx="197.6" cy="296.1" r="3.2" fill="#00ffff"/>
<circle cx="69.6" cy="200.0" r="3.2" fill="#a52a2a"/><circle cx="84.1" cy="219.5" r="3.2" fill="#a52a2a"/><circle cx="98.2" cy="236.5" r="3.2" fill="#a52a2a"/><circle cx="112.1" cy="254.0" r="3.2" fill="#a52a2a"/><circle cx="126.5" cy="268.2" r="3.2" fill="#a52a2a"/><path d="M140.3,281.0V285.0M138.3,281.0h4M138.3,285.0h4" stroke="#a52a2a" stroke-width="0.8" fill="none"/><circle cx="140.3" cy="283.0" r="3.2" fill="#a52a2a"/><path d="M155.1,286.3V292.3M153.1,286.3h4M153.1,292.3h4" stroke="#a52a2a" stroke-width="0.8" fill="none"/><circle cx="155.1" cy="289.3" r="3.2" fill="#a52a2a"/><path d="M169.1,299.7V309.7M167.1,299.7h4M167.1,309.7h4" stroke="#a52a2a" stroke-width="0.8" fill="none"/><circle cx="169.1" cy="304.7" r="3.2" fill="#a52a2a"/><path d="M183.2,309.5V324.5M181.2,309.5h4M181.2,324.5h4" stroke="#a52a2a" stroke-width="0.8" fill="none"/><circle cx="183.2" cy="317.0" r="3.2" fill="#a52a2a"/>
<circle cx="69.6" cy="224.2" r="3.2" fill="#800080"/><circle cx="84.1" cy="244.6" r="3.2" fill="#800080"/><circle cx="98.2" cy="263.3" r="3.2" fill="#800080"/><circle cx="112.1" cy="277.7" r="3.2" fill="#800080"/><path d="M126.5,293.5V297.5M124.5,293.5h4M124.5,297.5h4" stroke="#800080" stroke-width="0.8" fill="none"/><circle cx="126.5" cy="295.5" r="3.2" fill="#800080"/><path d="M140.3,302.5V307.5M138.3,302.5h4M138.3,307.5h4" stroke="#800080" stroke-width="0.8" fill="none"/><circle cx="140.3" cy="305.0" r="3.2" fill="#800080"/><path d="M155.1,312.0V319.0M153.1,312.0h4M153.1,319.0h4" stroke="#800080" stroke-width="0.8" fill="none"/><circle cx="155.1" cy="315.5" r="3.2" fill="#800080"/><path d="M169.1,327.6V337.6M167.1,327.6h4M167.1,337.6h4" stroke="#800080" stroke-width="0.8" fill="none"/><circle cx="169.1" cy="332.6" r="3.2" fill="#800080"/>
<rect x="62.5" y="18.6" width="284.0" height="425.2" fill="none" stroke="#000" stroke-width="0.62"/>
<path d="M62.5,443.8v-3.5M62.5,18.6v3.5M76.7,443.8v-1.6M76.7,18.6v1.6M90.9,443.8v-3.5M90.9,18.6v3.5M105.1,443.8v-1.6M105.1,18.6v1.6M119.3,443.8v-3.5M119.3,18.6v3.5M133.5,443.8v-1.6M133.5,18.6v1.6M147.7,443.8v-3.5M147.7,18.6v3.5M161.9,443.8v-1.6M161.9,18.6v1.6M176.1,443.8v-3.5M176.1,18.6v3.5M190.3,443.8v-1.6M190.3,18.6v1.6M204.5,443.8v-3.5M204.5,18.6v3.5M218.7,443.8v-1.6M218.7,18.6v1.6M232.9,443.8v-3.5M232.9,18.6v3.5M247.1,443.8v-1.6M247.1,18.6v1.6M261.3,443.8v-3.5M261.3,18.6v3.5M275.5,443.8v-1.6M275.5,18.6v1.6M289.7,443.8v-3.5M289.7,18.6v3.5M303.9,443.8v-1.6M303.9,18.6v1.6M318.1,443.8v-3.5M318.1,18.6v3.5M332.3,443.8v-1.6M332.3,18.6v1.6M346.5,443.8v-3.5M346.5,18.6v3.5M62.5,443.7h3.2M346.5,443.7h-3.2M62.5,433.4h1.6M346.5,433.4h-1.6M62.5,427.4h1.6M346.5,427.4h-1.6M62.5,423.1h1.6M346.5,423.1h-1.6M62.5,419.8h1.6M346.5,419.8h-1.6M62.5,417.1h1.6M346.5,417.1h-1.6M62.5,414.8h1.6M346.5,414.8h-1.6M62.5,412.8h1.6M346.5,412.8h-1.6M62.5,411.0h1.6M346.5,411.0h-1.6M62.5,409.5h3.2M346.5,409.5h-3.2M62.5,399.2h1.6M346.5,399.2h-1.6M62.5,393.1h1.6M346.5,393.1h-1.6M62.5,388.8h1.6M346.5,388.8h-1.6M62.5,385.5h1.6M346.5,385.5h-1.6M62.5,382.8h1.6M346.5,382.8h-1.6M62.5,380.5h1.6M346.5,380.5h-1.6M62.5,378.5h1.6M346.5,378.5h-1.6M62.5,376.8h1.6M346.5,376.8h-1.6M62.5,375.2h3.2M346.5,375.2h-3.2M62.5,364.9h1.6M346.5,364.9h-1.6M62.5,358.8h1.6M346.5,358.8h-1.6M62.5,354.6h1.6M346.5,354.6h-1.6M62.5,351.2h1.6M346.5,351.2h-1.6M62.5,348.5h1.6M346.5,348.5h-1.6M62.5,346.2h1.6M346.5,346.2h-1.6M62.5,344.3h1.6M346.5,344.3h-1.6M62.5,342.5h1.6M346.5,342.5h-1.6M62.5,340.9h3.2M346.5,340.9h-3.2M62.5,330.6h1.6M346.5,330.6h-1.6M62.5,324.6h1.6M346.5,324.6h-1.6M62.5,320.3h1.6M346.5,320.3h-1.6M62.5,317.0h1.6M346.5,317.0h-1.6M62.5,314.3h1.6M346.5,314.3h-1.6M62.5,312.0h1.6M346.5,312.0h-1.6M62.5,310.0h1.6M346.5,310.0h-1.6M62.5,308.2h1.6M346.5,308.2h-1.6M62.5,306.7h3.2M346.5,306.7h-3.2M62.5,296.3h1.6M346.5,296.3h-1.6M62.5,290.3h1.6M346.5,290.3h-1.6M62.5,286.0h1.6M346.5,286.0h-1.6M62.5,282.7h1.6M346.5,282.7h-1.6M62.5,280.0h1.6M346.5,280.0h-1.6M62.5,277.7h1.6M346.5,277.7h-1.6M62.5,275.7h1.6M346.5,275.7h-1.6M62.5,274.0h1.6M346.5,274.0h-1.6M62.5,272.4h3.2M346.5,272.4h-3.2M62.5,262.1h1.6M346.5,262.1h-1.6M62.5,256.0h1.6M346.5,256.0h-1.6M62.5,251.8h1.6M346.5,251.8h-1.6M62.5,248.4h1.6M346.5,248.4h-1.6M62.5,245.7h1.6M346.5,245.7h-1.6M62.5,243.4h1.6M346.5,243.4h-1.6M62.5,241.4h1.6M346.5,241.4h-1.6M62.5,239.7h1.6M346.5,239.7h-1.6M62.5,238.1h3.2M346.5,238.1h-3.2M62.5,227.8h1.6M346.5,227.8h-1.6M62.5,221.8h1.6M346.5,221.8h-1.6M62.5,217.5h1.6M346.5,217.5h-1.6M62.5,214.2h1.6M346.5,214.2h-1.6M62.5,211.5h1.6M346.5,211.5h-1.6M62.5,209.2h1.6M346.5,209.2h-1.6M62.5,207.2h1.6M346.5,207.2h-1.6M62.5,205.4h1.6M346.5,205.4h-1.6M62.5,203.9h3.2M346.5,203.9h-3.2M62.5,193.5h1.6M346.5,193.5h-1.6M62.5,187.5h1.6M346.5,187.5h-1.6M62.5,183.2h1.6M346.5,183.2h-1.6M62.5,179.9h1.6M346.5,179.9h-1.6M62.5,177.2h1.6M346.5,177.2h-1.6M62.5,174.9h1.6M346.5,174.9h-1.6M62.5,172.9h1.6M346.5,172.9h-1.6M62.5,171.1h1.6M346.5,171.1h-1.6M62.5,169.6h3.2M346.5,169.6h-3.2M62.5,159.3h1.6M346.5,159.3h-1.6M62.5,153.2h1.6M346.5,153.2h-1.6M62.5,148.9h1.6M346.5,148.9h-1.6M62.5,145.6h1.6M346.5,145.6h-1.6M62.5,142.9h1.6M346.5,142.9h-1.6M62.5,140.6h1.6M346.5,140.6h-1.6M62.5,138.6h1.6M346.5,138.6h-1.6M62.5,136.9h1.6M346.5,136.9h-1.6M62.5,135.3h3.2M346.5,135.3h-3.2M62.5,125.0h1.6M346.5,125.0h-1.6M62.5,119.0h1.6M346.5,119.0h-1.6M62.5,114.7h1.6M346.5,114.7h-1.6M62.5,111.4h1.6M346.5,111.4h-1.6M62.5,108.6h1.6M346.5,108.6h-1.6M62.5,106.3h1.6M346.5,106.3h-1.6M62.5,104.4h1.6M346.5,104.4h-1.6M62.5,102.6h1.6M346.5,102.6h-1.6M62.5,101.0h3.2M346.5,101.0h-3.2M62.5,90.7h1.6M346.5,90.7h-1.6M62.5,84.7h1.6M346.5,84.7h-1.6M62.5,80.4h1.6M346.5,80.4h-1.6M62.5,77.1h1.6M346.5,77.1h-1.6M62.5,74.4h1.6M346.5,74.4h-1.6M62.5,72.1h1.6M346.5,72.1h-1.6M62.5,70.1h1.6M346.5,70.1h-1.6M62.5,68.3h1.6M346.5,68.3h-1.6M62.5,66.8h3.2M346.5,66.8h-3.2M62.5,56.5h1.6M346.5,56.5h-1.6M62.5,50.4h1.6M346.5,50.4h-1.6M62.5,46.1h1.6M346.5,46.1h-1.6M62.5,42.8h1.6M346.5,42.8h-1.6M62.5,40.1h1.6M346.5,40.1h-1.6M62.5,37.8h1.6M346.5,37.8h-1.6M62.5,35.8h1.6M346.5,35.8h-1.6M62.5,34.1h1.6M346.5,34.1h-1.6M62.5,32.5h3.2M346.5,32.5h-3.2M62.5,22.2h1.6M346.5,22.2h-1.6" stroke="#000" stroke-width="0.6" fill="none"/>
<g font-family="Liberation Sans, sans-serif" font-weight="bold" fill="#000" filter="url(#gs)">
<text x="43.7" y="450.8" font-size="15" text-anchor="end">10</text><text x="43.2" y="443.4" font-size="10.4">-13</text>
<text x="43.7" y="416.6" font-size="15" text-anchor="end">10</text><text x="43.2" y="409.2" font-size="10.4">-12</text>
<text x="43.7" y="382.3" font-size="15" text-anchor="end">10</text><text x="43.2" y="374.9" font-size="10.4">-11</text>
<text x="43.7" y="348.0" font-size="15" text-anchor="end">10</text><text x="43.2" y="340.6" font-size="10.4">-10</text>
<text x="49.5" y="313.8" font-size="15" text-anchor="end">10</text><text x="48.5" y="306.4" font-size="10.4">-9</text>
<text x="49.5" y="279.5" font-size="15" text-anchor="end">10</text><text x="48.5" y="272.1" font-size="10.4">-8</text>
<text x="49.5" y="245.2" font-size="15" text-anchor="end">10</text><text x="48.5" y="237.8" font-size="10.4">-7</text>
<text x="49.5" y="211.0" font-size="15" text-anchor="end">10</text><text x="48.5" y="203.6" font-size="10.4">-6</text>
<text x="49.5" y="176.7" font-size="15" text-anchor="end">10</text><text x="48.5" y="169.3" font-size="10.4">-5</text>
<text x="49.5" y="142.4" font-size="15" text-anchor="end">10</text><text x="48.5" y="135.0" font-size="10.4">-4</text>
<text x="49.5" y="108.1" font-size="15" text-anchor="end">10</text><text x="48.5" y="100.7" font-size="10.4">-3</text>
<text x="49.5" y="73.9" font-size="15" text-anchor="end">10</text><text x="48.5" y="66.5" font-size="10.4">-2</text>
<text x="49.5" y="39.6" font-size="15" text-anchor="end">10</text><text x="48.5" y="32.2" font-size="10.4">-1</text>
<text x="62.5" y="461.1" font-size="14.8" text-anchor="middle">2</text>
<text x="90.9" y="461.1" font-size="14.8" text-anchor="middle">3</text>
<text x="119.3" y="461.1" font-size="14.8" text-anchor="middle">4</text>
<text x="147.7" y="461.1" font-size="14.8" text-anchor="middle">5</text>
<text x="176.1" y="461.1" font-size="14.8" text-anchor="middle">6</text>
<text x="204.5" y="461.1" font-size="14.8" text-anchor="middle">7</text>
<text x="232.9" y="461.1" font-size="14.8" text-anchor="middle">8</text>
<text x="261.3" y="461.1" font-size="14.8" text-anchor="middle">9</text>
<text x="289.7" y="461.1" font-size="14.8" text-anchor="middle">10</text>
<text x="318.1" y="461.1" font-size="14.8" text-anchor="middle">11</text>
<text x="346.5" y="461.1" font-size="14.8" text-anchor="middle">12</text>
<text x="176.4" y="476.3" font-size="14.3">P<tspan font-size="10.2" dy="3.8">T</tspan><tspan dy="-3.8"> (GeV)</tspan></text>
<text transform="translate(19.9,304.2) rotate(-90)" font-size="14.1">1/2<tspan font-weight="normal" font-size="12">π</tspan>P<tspan font-size="10.2" dy="3.8">T</tspan><tspan dy="-3.8"> dN/dP</tspan><tspan font-size="10.2" dy="3.8">T</tspan><tspan dy="-3.8"> (GeV</tspan><tspan font-size="10.2" dy="-6.5">-2</tspan><tspan dy="6.5">)</tspan></text>
<circle cx="207.3" cy="32.3" r="3.2" fill="#ff0000"/>
<text x="220.4" y="35.9" font-size="10.52"><tspan font-weight="normal" font-size="9.3" fill="#222">π</tspan><tspan font-size="8" dy="-5.6">0</tspan><tspan dy="5.6"> PHENIX 0-10%</tspan></text>
<circle cx="207.3" cy="45.0" r="3.2" fill="#000000"/>
<text x="220.4" y="48.6" font-size="10.52"><tspan font-weight="normal" font-size="9.3" fill="#222">π</tspan><tspan font-size="8" dy="-5.6">0</tspan><tspan dy="5.6">/5 PHENIX 10-20%</tspan></text>
<circle cx="207.3" cy="57.8" r="3.2" fill="#0000ff"/>
<text x="220.4" y="61.4" font-size="10.52"><tspan font-weight="normal" font-size="9.3" fill="#222">π</tspan><tspan font-size="8" dy="-5.6">0</tspan><tspan dy="5.6">/25 PHENIX 20-30%</tspan></text>
<circle cx="207.3" cy="70.5" r="3.2" fill="#00ff00"/>
<text x="220.4" y="74.1" font-size="10.52"><tspan font-weight="normal" font-size="9.3" fill="#222">π</tspan><tspan font-size="8" dy="-5.6">0</tspan><tspan dy="5.6">/100 PHENIX 30-40%</tspan></text>
<circle cx="207.3" cy="83.3" r="3.2" fill="#8c8c8c"/>
<text x="220.4" y="86.9" font-size="10.52"><tspan font-weight="normal" font-size="9.3" fill="#222">π</tspan><tspan font-size="8" dy="-5.6">0</tspan><tspan dy="5.6">/200 PHENIX 40-50%</tspan></text>
<circle cx="207.3" cy="96.0" r="3.2" fill="#ff00ff"/>
<text x="220.4" y="99.6" font-size="10.52"><tspan font-weight="normal" font-size="9.3" fill="#222">π</tspan><tspan font-size="8" dy="-5.6">0</tspan><tspan dy="5.6">/500 PHENIX 50-60%</tspan></text>
<circle cx="207.3" cy="108.7" r="3.2" fill="#00ffff"/>
<text x="220.4" y="112.3" font-size="10.52"><tspan font-weight="normal" font-size="9.3" fill="#222">π</tspan><tspan font-size="8" dy="-5.6">0</tspan><tspan dy="5.6">/1000 PHENIX 60-70%</tspan></text>
<circle cx="207.3" cy="121.5" r="3.2" fill="#a52a2a"/>
<text x="220.4" y="125.1" font-size="10.52"><tspan font-weight="normal" font-size="9.3" fill="#222">π</tspan><tspan font-size="8" dy="-5.6">0</tspan><tspan dy="5.6">/2000 PHENIX 70-80%</tspan></text>
<circle cx="207.3" cy="134.2" r="3.2" fill="#800080"/>
<text x="220.4" y="137.8" font-size="10.52"><tspan font-weight="normal" font-size="9.3" fill="#222">π</tspan><tspan font-size="8" dy="-5.6">0</tspan><tspan dy="5.6">/5000 PHENIX 80-92%</tspan></text>
<path d="M70,330.0H89.7" stroke="#ff0000" stroke-width="1.7" fill="none"/>
<text x="96.4" y="334.5" font-size="10.45"><tspan font-weight="normal" font-size="9.3" fill="#222">π</tspan><tspan font-size="8" dy="-5.6">0</tspan><tspan dy="5.6"> R+F b=0 fm</tspan></text>
<path d="M70,342.8H89.7" stroke="#000000" stroke-width="1.7" fill="none"/>
<text x="96.4" y="347.3" font-size="10.45"><tspan font-weight="normal" font-size="9.3" fill="#222">π</tspan><tspan font-size="8" dy="-5.6">0</tspan><tspan dy="5.6">/5 R+F b=5.5 fm</tspan></text>
<path d="M70,355.6H89.7" stroke="#0000ff" stroke-width="1.7" fill="none"/>
<text x="96.4" y="360.1" font-size="10.45"><tspan font-weight="normal" font-size="9.3" fill="#222">π</tspan><tspan font-size="8" dy="-5.6">0</tspan><tspan dy="5.6">/25 R+F b=7.5 fm</tspan></text>
<path d="M70,368.4H89.7" stroke="#00ff00" stroke-width="1.7" fill="none"/>
<text x="96.4" y="372.9" font-size="10.45"><tspan font-weight="normal" font-size="9.3" fill="#222">π</tspan><tspan font-size="8" dy="-5.6">0</tspan><tspan dy="5.6">/100 R+F b=9 fm</tspan></text>
<path d="M70,381.2H89.7" stroke="#8c8c8c" stroke-width="1.7" fill="none"/>
<text x="96.4" y="385.7" font-size="10.45"><tspan font-weight="normal" font-size="9.3" fill="#222">π</tspan><tspan font-size="8" dy="-5.6">0</tspan><tspan dy="5.6">/200 R+F b=10 fm</tspan></text>
<path d="M70,394.1H89.7" stroke="#ff00ff" stroke-width="1.7" fill="none"/>
<text x="96.4" y="398.6" font-size="10.45"><tspan font-weight="normal" font-size="9.3" fill="#222">π</tspan><tspan font-size="8" dy="-5.6">0</tspan><tspan dy="5.6">/500 R+F b=11 fm</tspan></text>
<path d="M70,406.9H89.7" stroke="#00ffff" stroke-width="1.7" fill="none"/>
<text x="96.4" y="411.4" font-size="10.45"><tspan font-weight="normal" font-size="9.3" fill="#222">π</tspan><tspan font-size="8" dy="-5.6">0</tspan><tspan dy="5.6">/1000 R+F b=12 fm</tspan></text>
<path d="M70,419.7H89.7" stroke="#a52a2a" stroke-width="1.7" fill="none"/>
<text x="96.4" y="424.2" font-size="10.45"><tspan font-weight="normal" font-size="9.3" fill="#222">π</tspan><tspan font-size="8" dy="-5.6">0</tspan><tspan dy="5.6">/2000 R+F b=13 fm</tspan></text>
<path d="M69.9,432.5H88.6" stroke="#800080" stroke-width="2.2" stroke-dasharray="0.75 1.0" fill="none"/>
<text x="96.4" y="437.0" font-size="10.45"><tspan font-weight="normal" font-size="9.3" fill="#222">π</tspan><tspan font-size="8" dy="-5.6">0</tspan><tspan dy="5.6">/5000 F b=13.9 fm</tspan></text>
</g>
</svg>
</body></html>
